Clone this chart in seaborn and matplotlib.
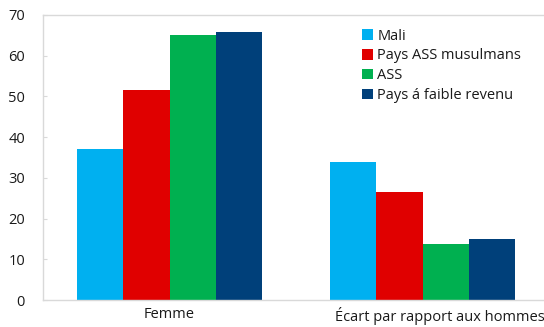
import pandas as pd
import matplotlib.pyplot as plt
import matplotlib.transforms as mtransforms
import seaborn as sns

categories = ["Femme", "Écart par rapport aux hommes"]
groupes = ["Mali", "Pays ASS musulmans", "ASS", "Pays á faible revenu"]
mali = [37, 33.8]
ass_musulmans = [51.7, 26.6]
ass = [65.1, 13.7]
faible_revenu = [65.8, 15.1]
couleurs = ["#00B0F0", "#E00000", "#00B050", "#00407A"]

rows = []
for g, vals in zip(groupes, [mali, ass_musulmans, ass, faible_revenu]):
    for c, v in zip(categories, vals):
        rows.append({"categorie": c, "groupe": g, "valeur": v})
df = pd.DataFrame(rows)

sns.set_style("white")
plt.rcParams["font.family"] = ["Open Sans", "DejaVu Sans"]
plt.rcParams["text.color"] = "#1a1a1a"

fig = plt.figure(figsize=(5.44, 3.27), dpi=100)
ax = fig.add_axes([43 / 544, 27 / 327, 501 / 544, 285 / 327])

sns.barplot(data=df, x="categorie", y="valeur", hue="groupe", palette=couleurs,
            width=0.73, saturation=1, linewidth=0, ax=ax)

ax.set_xlim(-0.5, 1.48)
ax.set_ylim(0, 70)
ax.set_yticks(range(0, 71, 10))
ax.set_xlabel("")
ax.set_ylabel("")

for side in ["left", "top", "bottom"]:
    ax.spines[side].set_color("#d9d9d9")
    ax.spines[side].set_linewidth(1)
ax.spines["right"].set_visible(False)

ax.tick_params(axis="y", direction="in", length=3, color="#d9d9d9",
               labelsize=10.5, pad=13, left=True, labelcolor="#1a1a1a")
ax.tick_params(axis="x", length=0, labelsize=10.5, pad=5, labelcolor="#1a1a1a")

# petit décalage du second libellé comme dans l'original
lbl = ax.get_xticklabels()[1]
lbl.set_transform(lbl.get_transform() + mtransforms.ScaledTranslation(0.17, 0, fig.dpi_scale_trans))

leg = ax.legend(loc="upper left", bbox_to_anchor=(0.619, 0.983), frameon=False,
                fontsize=10.5, handlelength=0.75, handleheight=0.75,
                handletextpad=0.3, labelspacing=0.33, borderaxespad=0.2)

plt.savefig("out.png", dpi=100)
